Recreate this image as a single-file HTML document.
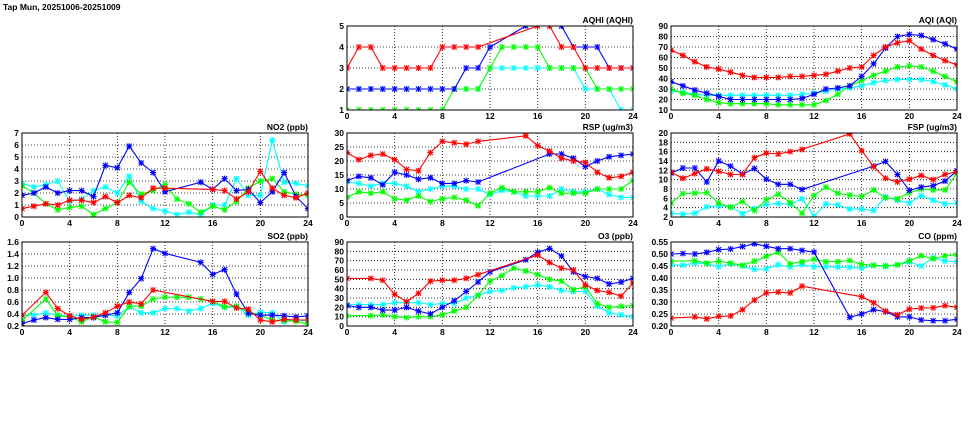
<!DOCTYPE html>
<html><head><meta charset="utf-8"><style>
body{margin:0;background:#fff;width:975px;height:447px;overflow:hidden}
svg{display:block}
text{font-family:"Liberation Sans",sans-serif;font-weight:bold;font-size:8.5px;fill:#000}
</style></head><body>
<svg id="chart" width="975" height="447" xmlns="http://www.w3.org/2000/svg">
<text x="3" y="10" font-size="10">Tap Mun, 20251006-20251009</text>
</svg>
<script>
const hours=[0,1,2,3,4,5,6,7,8,9,10,11,12,13,14,15,16,17,18,19,20,21,22,23,24];
const xTicks=[0,4,8,12,16,20,24];
const N=null;
const aqhiRed=[3,4,4,3,3,3,3,3,4,4,4,4,N,N,N,N,5,5,4,4,3,3,3,3,3];
const aqhiBlue=[2,2,2,2,2,2,2,2,2,2,3,3,4,N,N,5,N,N,5,4,4,4,3,3,3];
const aqhiGreen=[1,1,1,1,1,1,1,1,1,2,2,2,3,4,4,4,4,3,3,3,3,2,2,2,2];
const aqhiCyan=[2,2,2,2,2,2,2,2,2,2,2,2,3,3,3,3,3,3,3,3,2,2,2,1,1];
const aqiRed=[67,62,56,51,49,46,43,41,41,41,42,42,43,44,47,50,51,62,70,74,76,68,62,57,53];
const aqiBlue=[37,33,29,26,23,20,20,20,20,20,20,21,25,30,31,33,42,54,69,80,82,81,77,73,68];
const aqiGreen=[30,26,24,20,17,16,16,16,16,15,15,15,15,19,25,33,38,43,47,51,52,51,47,42,37];
const aqiCyan=[28,27,25,24,24,24,24,24,24,24,24,25,26,28,30,31,33,36,38,39,39,39,37,34,30];
const no2Red=[0.7,0.9,1.1,1.0,1.4,1.4,1.2,1.7,1.2,1.8,1.6,2.4,2.4,N,N,N,2.3,2.2,1.5,2.1,3.8,2.4,1.8,1.6,2.0];
const no2Blue=[1.8,2.0,2.5,2.0,2.2,2.2,1.7,4.3,4.1,5.9,4.5,3.7,2.1,N,N,2.9,2.3,3.2,2.2,2.3,1.2,2.1,3.7,1.7,0.7];
const no2Green=[2.6,2.0,1.1,0.6,0.8,0.9,0.2,0.7,1.2,2.9,1.9,2.2,2.7,1.5,1.1,0.4,0.9,0.6,1.3,2.4,3.0,3.2,2.1,1.9,1.8];
const no2Cyan=[2.8,2.5,2.7,3.0,1.3,1.5,2.2,2.5,2.0,3.4,1.3,0.7,0.5,0.2,0.4,0.2,1.0,1.0,3.2,1.8,1.8,6.4,2.9,2.8,2.6];
const rspRed=[23,20.5,22,22.5,20.5,17,16.5,23,27,26.5,26,27,N,N,N,29,25.5,23.5,21,20,19.5,16,14,14.5,16];
const rspBlue=[13,14.5,14,11.5,16,15,13.5,14,12,12,13,12.5,N,N,N,N,N,22.5,22.5,21,18,20,21.5,22,22.5];
const rspGreen=[7,9,8.5,9,6.5,6,7.5,5.5,6.5,7,6,4,8.5,10.5,9,9,9,10.5,8.5,8.5,8.5,10,10,10,13];
const rspCyan=[12.5,12,11,12,12,11,9,10,11,11,10,10,8,9.5,9,7.5,7.5,7.5,10,9,9,10,8,7,7];
const fspRed=[11.6,10.3,11.3,12.3,11.8,11.1,11.1,14.7,15.7,15.5,16.0,16.5,N,N,N,19.8,16.2,12.8,10.3,9.5,10.1,10.9,10.0,11.1,11.7];
const fspBlue=[11.4,12.5,12.5,9.5,14.0,12.9,11.2,12.4,10.1,9.0,9.0,7.9,N,N,N,N,N,12.9,13.9,11.1,7.7,8.4,8.7,9.7,11.9];
const fspGreen=[5.0,7.0,7.1,7.2,5.0,4.1,5.3,3.4,5.7,6.9,5.1,2.8,6.6,8.4,7.1,6.7,6.4,7.8,6.1,5.9,7.2,8.0,7.8,7.8,11.4];
const fspCyan=[2.8,2.6,2.8,4.2,4.4,4.2,2.7,3.8,4.7,4.9,4.7,5.9,2.2,4.8,4.6,3.7,3.7,3.4,6.3,5.6,5.0,6.6,5.6,4.8,5.0];
const so2Red=[0.38,N,0.76,0.49,0.37,0.31,0.35,0.42,0.53,0.60,0.57,0.80,N,N,N,N,0.61,0.61,0.50,0.48,0.30,0.27,0.31,0.30,0.30];
const so2Blue=[0.24,0.30,0.34,0.31,0.31,0.34,0.34,0.38,0.42,0.76,0.99,1.49,1.41,N,N,1.26,1.06,1.14,0.73,0.41,0.38,0.38,0.37,0.35,0.37];
const so2Green=[0.29,N,0.65,0.37,0.35,0.27,0.35,0.27,0.26,0.53,0.53,0.65,0.68,0.68,0.68,0.65,0.61,0.52,0.53,0.43,0.38,0.30,0.29,0.28,0.23];
const so2Cyan=[0.38,0.38,0.42,0.38,0.36,0.38,0.38,0.38,0.37,0.52,0.42,0.42,0.49,0.49,0.45,0.49,0.58,0.51,0.52,0.38,0.43,0.42,0.27,0.30,0.28];
const o3Red=[51,N,51,49,34,26,35,48,49,49,51,55,N,N,N,N,76,68,62,60,44,38,36,32,46];
const o3Blue=[22,20,20,17,17,20,16,13,20,27,37,47,58,N,N,71,79,83,75,58,53,51,45,47,51];
const o3Green=[11,N,11,12,10,9,10,10,12,16,20,33,48,54,62,59,55,50,48,39,42,24,20,21,22];
const o3Cyan=[23,23,23,23,25,25,25,23,24,24,30,33,37,38,41,42,44,42,38,37,37,21,14,12,10];
const coRed=[0.233,N,0.238,0.230,0.240,0.242,0.268,0.308,0.338,0.341,0.338,0.366,N,N,N,N,0.322,0.297,0.262,0.247,0.270,0.275,0.276,0.285,0.278];
const coBlue=[0.500,0.502,0.500,0.507,0.518,0.521,0.531,0.543,0.532,0.522,0.522,0.515,0.508,N,N,0.236,0.250,0.268,0.260,0.238,0.238,0.225,0.222,0.222,0.228];
const coGreen=[0.470,N,0.472,0.462,0.470,0.462,0.453,0.470,0.490,0.507,0.459,0.468,0.478,0.468,0.468,0.473,0.457,0.453,0.451,0.455,0.472,0.493,0.480,0.492,0.497];
const coCyan=[0.455,0.453,0.462,0.460,0.447,0.459,0.450,0.436,0.438,0.455,0.446,0.455,0.447,0.447,0.445,0.445,0.441,0.452,0.448,0.455,0.467,0.450,0.485,0.470,0.468];
const aqhiTicks=[1,2,3,4,5];
const aqiTicks=[10,20,30,40,50,60,70,80,90];
const no2Ticks=[0,1,2,3,4,5,6,7];
const rspTicks=[0,5,10,15,20,25,30];
const fspTicks=[2,4,6,8,10,12,14,16,18,20];
const so2Ticks=[0.2,0.4,0.6,0.8,1.0,1.2,1.4,1.6];
const o3Ticks=[0,10,20,30,40,50,60,70,80,90];
const coTicks=[0.20,0.25,0.30,0.35,0.40,0.45,0.50,0.55];

const svg=document.getElementById('chart');
const NS='http://www.w3.org/2000/svg';
function mk(tag,attrs,parent){const e=document.createElementNS(NS,tag);for(const k in attrs)e.setAttribute(k,attrs[k]);(parent||svg).appendChild(e);return e;}

const panels=[
 {id:'aqhi',title:'AQHI (AQHI)',x:347,y:26,ticks:aqhiTicks,dec:0,series:[aqhiCyan,aqhiGreen,aqhiBlue,aqhiRed]},
 {id:'aqi',title:'AQI (AQI)',x:671,y:26,ticks:aqiTicks,dec:0,series:[aqiCyan,aqiGreen,aqiBlue,aqiRed]},
 {id:'no2',title:'NO2 (ppb)',x:22,y:133,ticks:no2Ticks,dec:0,series:[no2Cyan,no2Green,no2Blue,no2Red]},
 {id:'rsp',title:'RSP (ug/m3)',x:347,y:133,ticks:rspTicks,dec:0,series:[rspCyan,rspGreen,rspBlue,rspRed]},
 {id:'fsp',title:'FSP (ug/m3)',x:671,y:133,ticks:fspTicks,dec:0,series:[fspCyan,fspGreen,fspBlue,fspRed]},
 {id:'so2',title:'SO2 (ppb)',x:22,y:242,ticks:so2Ticks,dec:1,series:[so2Cyan,so2Green,so2Blue,so2Red]},
 {id:'o3',title:'O3 (ppb)',x:347,y:242,ticks:o3Ticks,dec:0,series:[o3Cyan,o3Green,o3Blue,o3Red]},
 {id:'co',title:'CO (ppm)',x:671,y:242,ticks:coTicks,dec:2,series:[coCyan,coGreen,coBlue,coRed]}
];
const colors=['#00ffff','#00ff00','#0000ff','#ff0000'];
const cnames=['cyan','green','blue','red'];
const W=286,H=84;

panels.forEach(p=>{
 const g=mk('g',{});
 
 
 const ymin=p.ticks[0],ymax=p.ticks[p.ticks.length-1];
 const sx=v=>p.x+v/24*W;
 const sy=v=>p.y+H-(v-ymin)/(ymax-ymin)*H;
 // grid
 p.ticks.forEach((t,i)=>{
  const y=sy(t);
  if(i>0&&i<p.ticks.length-1){const l=mk('line',{x1:p.x,x2:p.x+W,y1:y,y2:y,stroke:'#000','stroke-width':0.8,'stroke-dasharray':'1,2'},g);}
  const tx=mk('text',{x:p.x-3,y:y+3,'text-anchor':'end'},g);
  
  
  tx.textContent=t.toFixed(p.dec);
 });
 xTicks.forEach((t,i)=>{
  const x=sx(t);
  if(i>0&&i<xTicks.length-1){const l=mk('line',{x1:x,x2:x,y1:p.y,y2:p.y+H,stroke:'#000','stroke-width':0.8,'stroke-dasharray':'1,2'},g);}
  const tx=mk('text',{x:x,y:p.y+H+9,'text-anchor':'middle'},g);
  
  
  tx.textContent=t;
 });
 const clipId='clip-'+p.id;
 const cp=mk('clipPath',{id:clipId},g);
 mk('rect',{x:p.x,y:p.y,width:W,height:H},cp);
 const sg=mk('g',{'clip-path':'url(#'+clipId+')'},g);
 p.series.forEach((arr,si)=>{
  const pts=[];
  arr.forEach((v,i)=>{if(v!==null)pts.push([sx(hours[i]),sy(v)]);});
  const pl=mk('polyline',{points:pts.map(q=>q[0].toFixed(1)+','+q[1].toFixed(1)).join(' '),fill:'none',stroke:colors[si],'stroke-width':1.1},sg);
  
  
  pts.forEach(q=>{
   const m=mk('path',{d:`M${q[0]-2.5},${q[1]-2.5}L${q[0]+2.5},${q[1]+2.5}M${q[0]-2.5},${q[1]+2.5}L${q[0]+2.5},${q[1]-2.5}M${q[0]-3},${q[1]}L${q[0]+3},${q[1]}M${q[0]},${q[1]-3}L${q[0]},${q[1]+3}`,stroke:colors[si],'stroke-width':1.1},sg);
   
   
  });
 });
 const fr=mk('rect',{x:p.x,y:p.y,width:W,height:H,fill:'none',stroke:'#000','stroke-width':1},g);
 
 
 const tt=mk('text',{x:p.x+W,y:p.y-3,'text-anchor':'end'},g);
 
 
 tt.textContent=p.title;
});
</script>
</body></html>
